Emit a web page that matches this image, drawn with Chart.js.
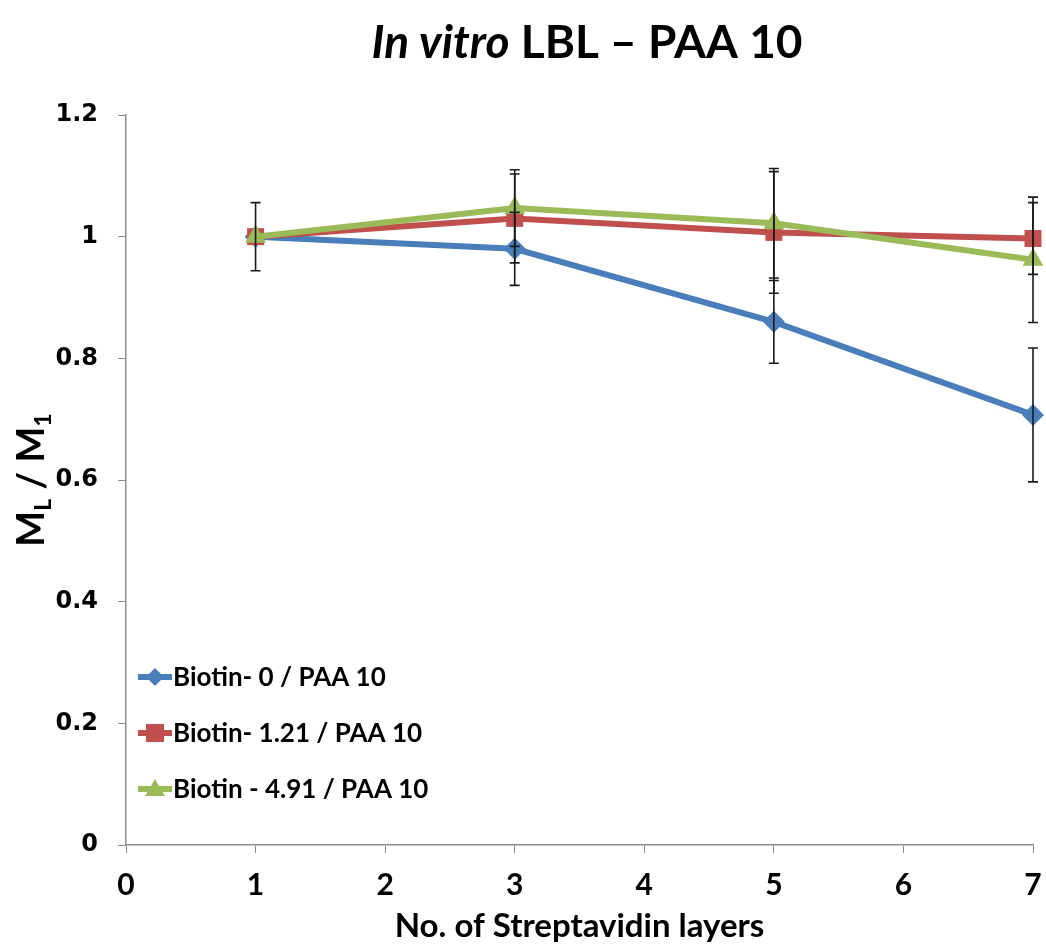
<!DOCTYPE html>
<html>
<head>
<meta charset="utf-8">
<script src="https://cdn.jsdelivr.net/npm/chart.js@4"></script>
<style>
  html, body { margin: 0; padding: 0; background: #fff; overflow: hidden; }
  #wrap { width: 1046px; height: 946px; position: relative; }
  canvas { display: block; }
</style>
</head>
<body>
<div id="wrap"><canvas id="layersChart"></canvas></div>
<script>
const layers = [1, 3, 5, 7];
const biotin0 = [1, 0.98, 0.86, 0.707];
const biotin121 = [1, 1.03, 1.007, 0.997];
const biotin491 = [1, 1.047, 1.022, 0.962];
const err0 = [0.056, 0.06, 0.068, 0.11];
const err121 = [0, 0.073, 0.1, 0.059];
const err491 = [0, 0.063, 0.09, 0.103];
const seriesLabels = ['Biotin- 0 / PAA 10', 'Biotin- 1.21 / PAA 10', 'Biotin - 4.91 / PAA 10'];
const xTicks = [0, 1, 2, 3, 4, 5, 6, 7];
const yTicks = [0, 0.2, 0.4, 0.6, 0.8, 1, 1.2];

const narrow = "'Lato', 'Open Sans', sans-serif";
const axisGrey = '#8c8c8c';

const toPoints = ys => ys.map((y, i) => ({ x: layers[i], y }));

const series = [
  { label: seriesLabels[0], data: biotin0, err: err0, color: '#4a7ebb', style: 'rectRot', radius: 11, order: 2 },
  { label: seriesLabels[1], data: biotin121, err: err121, color: '#c0504d', style: 'rect', radius: 12, order: 1 },
  { label: seriesLabels[2], data: biotin491, err: err491, color: '#9bbb59', style: 'triangle', radius: 12, order: 0 },
];

const overlay = {
  id: 'overlay',
  afterDatasetsDraw(chart) {
    const { ctx, scales: { x, y } } = chart;
    ctx.save();
    ctx.strokeStyle = '#1a1a1a';
    ctx.lineWidth = 1.6;
    series.forEach(s => {
      s.data.forEach((v, i) => {
        if (!s.err[i]) return;
        const px = x.getPixelForValue(layers[i]);
        const top = y.getPixelForValue(v + s.err[i]);
        const bot = y.getPixelForValue(v - s.err[i]);
        ctx.beginPath();
        ctx.moveTo(px, top); ctx.lineTo(px, bot);
        ctx.moveTo(px - 5, top); ctx.lineTo(px + 5, top);
        ctx.moveTo(px - 5, bot); ctx.lineTo(px + 5, bot);
        ctx.stroke();
      });
    });
    ctx.restore();
  },
  afterDraw(chart) {
    const { ctx, chartArea } = chart;
    ctx.save();
    ctx.fillStyle = '#000';
    ctx.textBaseline = 'alphabetic';

    // title: italic part then bold part
    const it = 'In vitro';
    const rest = ' LBL \u2013 PAA 10';
    ctx.font = `italic bold 46px ${narrow}`;
    const w1 = ctx.measureText(it).width;
    ctx.font = `bold 46px ${narrow}`;
    const w2 = ctx.measureText(rest).width;
    const tx = 587 - (w1 + w2) / 2;
    ctx.textAlign = 'left';
    ctx.font = `italic bold 46px ${narrow}`;
    ctx.fillText(it, tx, 58);
    ctx.font = `bold 46px ${narrow}`;
    ctx.fillText(rest, tx + w1, 58);

    // y axis title with subscripts
    const parts = [['M', 0], ['L', 1], [' / ', 0], ['M', 0], ['1', 1]];
    const big = `bold 38px ${narrow}`;
    const small = `bold 23px ${narrow}`;
    let total = 0;
    parts.forEach(([t, sub]) => { ctx.font = sub ? small : big; total += ctx.measureText(t).width; });
    ctx.translate(44, (chartArea.top + chartArea.bottom) / 2);
    ctx.rotate(-Math.PI / 2);
    let cx = -total / 2;
    parts.forEach(([t, sub]) => {
      ctx.font = sub ? small : big;
      ctx.fillText(t, cx, sub ? 7 : 0);
      cx += ctx.measureText(t).width;
    });
    ctx.setTransform(1, 0, 0, 1, 0, 0);

    // legend inside the plot
    const rows = [677, 733, 789];
    series.forEach((s, i) => {
      const ly = rows[i];
      ctx.strokeStyle = s.color;
      ctx.lineWidth = 6;
      ctx.beginPath();
      ctx.moveTo(138, ly); ctx.lineTo(172, ly);
      ctx.stroke();
      ctx.fillStyle = s.color;
      ctx.beginPath();
      if (s.style === 'rectRot') {
        ctx.moveTo(155, ly - 9); ctx.lineTo(164, ly); ctx.lineTo(155, ly + 9); ctx.lineTo(146, ly);
      } else if (s.style === 'rect') {
        ctx.rect(146, ly - 9, 18, 18);
      } else {
        ctx.moveTo(155, ly - 10); ctx.lineTo(165, ly + 7); ctx.lineTo(145, ly + 7);
      }
      ctx.closePath();
      ctx.fill();
      ctx.fillStyle = '#000';
      ctx.font = `bold 26px ${narrow}`;
      ctx.textBaseline = 'middle';
      ctx.fillText(s.label, 173, ly + 1);
    });
    ctx.restore();
  },
};

new Chart(document.getElementById('layersChart'), {
  type: 'line',
  data: {
    datasets: series.map(s => ({
      label: s.label,
      data: toPoints(s.data),
      borderColor: s.color,
      backgroundColor: s.color,
      borderWidth: 6,
      pointStyle: s.style,
      pointRadius: s.radius,
      pointBorderWidth: 0,
      tension: 0,
      order: s.order,
      clip: false,
    })),
  },
  options: {
    responsive: true,
    maintainAspectRatio: false,
    animation: false,
    layout: { autoPadding: false, padding: { top: 115, right: 13, left: 0, bottom: 0 } },
    plugins: { legend: { display: false }, tooltip: { enabled: false }, title: { display: false } },
    scales: {
      x: {
        type: 'linear',
        min: 0,
        max: 7,
        afterBuildTicks: scale => { scale.ticks = xTicks.map(v => ({ value: v })); },
        afterFit: scale => { scale.height = 101; scale.paddingLeft = 0; scale.paddingRight = 0; },
        grid: { drawOnChartArea: false, drawTicks: true, tickLength: 8, color: axisGrey },
        border: { color: axisGrey, width: 1.5 },
        ticks: { color: '#000', padding: 14, font: { family: narrow, weight: 'bold', size: 30 } },
        title: { display: true, text: 'No. of Streptavidin layers', color: '#000', padding: { top: 0, bottom: 0 }, font: { family: narrow, weight: 'bold', size: 33 } },
      },
      y: {
        type: 'linear',
        min: 0,
        max: 1.2,
        afterBuildTicks: scale => { scale.ticks = yTicks.map(v => ({ value: v })); },
        afterFit: scale => { scale.width = 126; scale.paddingLeft = 0; scale.paddingRight = 0; },
        grid: { drawOnChartArea: false, drawTicks: true, tickLength: 8, color: axisGrey },
        border: { color: axisGrey, width: 1.5 },
        ticks: { color: '#000', padding: 20, font: { family: "'DejaVu Sans', sans-serif", weight: 'bold', size: 24 }, callback: v => String(+v.toFixed(1)) },
      },
    },
  },
  plugins: [overlay],
});
</script>
</body>
</html>
